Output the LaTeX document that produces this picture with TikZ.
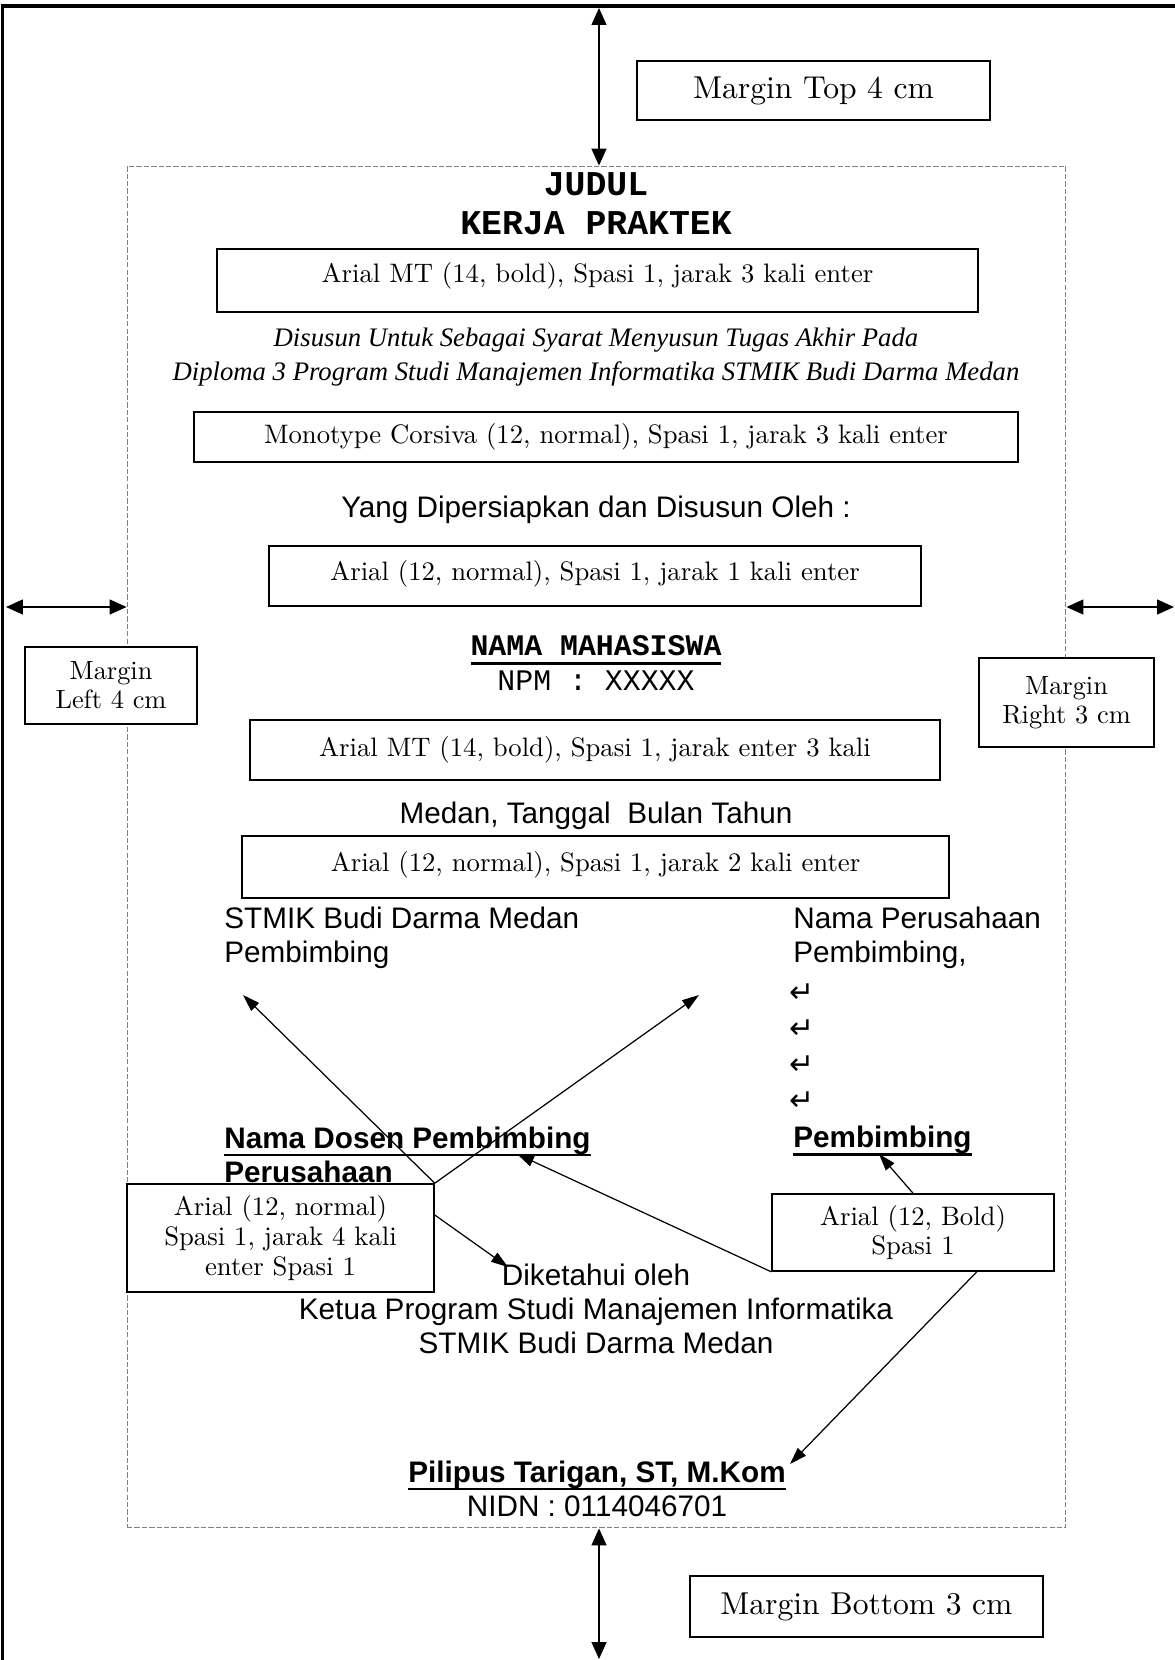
\documentclass[tikz,border=0pt]{standalone}
\usepackage{fontspec}
\newfontfamily\arial{Liberation Sans}
\newfontfamily\kurir{Liberation Mono}
\newfontfamily\serifmiring{Liberation Serif}
\newfontfamily\dejavu{DejaVu Sans}
\newfontfamily\lmsepuluh{lmroman10-regular}[Extension=.otf]
\usetikzlibrary{arrows.meta,calc}
\newcommand{\garis}[2][4.5pt]{\leavevmode\setbox0\hbox{#2}\rlap{\rule[-#1]{\wd0}{1.5pt}}\box0}
\tikzset{
  bingkai/.style={line width=2pt},
  halaman/.style={draw=black!50,line width=0.6pt,dash pattern=on 3pt off 1.2pt,
    inner sep=0pt},
  kotak/.style={draw,fill=white,line width=0.9pt,inner sep=0pt,align=center,
    font=\lmsepuluh\fontsize{15.2}{17}\selectfont},
  kotakbesar/.style={kotak,font=\lmsepuluh\fontsize{18}{20}\selectfont},
  kotakmargin/.style={kotak,font=\lmsepuluh\fontsize{15}{16.5}\selectfont},
  arialteks/.style={inner sep=0pt,font=\arial\fontsize{16.9}{19.4}\selectfont},
  kurirteks/.style={inner sep=0pt,align=center,font=\kurir\fontsize{17}{20.4}\selectfont},
  judulteks/.style={inner sep=0pt,align=center,
    font=\kurir\bfseries\fontsize{19.8}{22}\selectfont},
  miring/.style={inner sep=0pt,align=center,
    font=\serifmiring\itshape\fontsize{15.2}{19.3}\selectfont},
  enter/.style={inner sep=0pt,font=\dejavu\fontsize{17}{17}\selectfont},
  panahmargin/.style={{Triangle[length=3.4mm,width=3mm]}-{Triangle[length=3.4mm,width=3mm]},
    line width=0.8pt},
  panah/.style={-{Triangle[length=3.4mm,width=2.2mm]},line width=0.7pt},
}
\begin{document}
\begin{tikzpicture}[x=0.02cm,y=-0.02cm]
  \useasboundingbox (0,0) rectangle (1175,1660);
  % halaman dan batas ketikan
  \draw[bingkai] (2.5,1660) -- (2.5,6) -- (1175,6);
  \node[halaman,minimum width=18.78cm,minimum height=27.24cm] (isi) at (596.5,847) {};

  % margin
  \coordinate (atas) at (599,8);
  \draw[panahmargin] (atas) -- (atas |- isi.north);
  \node[kotakbesar,minimum width=7.06cm,minimum height=1.18cm] (mtop) at (813.5,90.5) {Margin Top 4 cm};
  \coordinate (kiri) at (6,607);
  \draw[panahmargin] (kiri) -- (kiri -| isi.west);
  \node[kotakmargin,minimum width=3.44cm,minimum height=1.54cm] (mleft) at (111,685.5) {Margin\\Left 4 cm};
  \coordinate (kanan) at (1174,607);
  \draw[panahmargin] (kanan -| isi.east) -- (kanan);
  \node[kotakmargin,minimum width=3.5cm,minimum height=1.78cm] (mright) at (1066.5,702.5) {Margin\\Right 3 cm};
  \coordinate (bawah) at (599,1659);
  \draw[panahmargin] (bawah |- isi.south) -- (bawah);
  \node[kotakbesar,minimum width=7.06cm,minimum height=1.22cm] (mbottom) at (866.5,1606.5) {Margin Bottom 3 cm};

  % isi halaman judul
  \node[judulteks] (judul) at (596,203.5) {JUDUL\\KERJA PRAKTEK};
  \node[kotak,minimum width=15.22cm,minimum height=1.26cm,text depth=9pt] (k1) at (597.5,280.5) {Arial MT (14, bold), Spasi 1, jarak 3 kali enter};
  \node[miring] (syarat) at (596,357) {Disusun Untuk Sebagai Syarat Menyusun Tugas Akhir Pada\\Diploma 3 Program Studi Manajemen Informatika STMIK Budi Darma Medan};
  \node[kotak,minimum width=16.48cm,minimum height=1cm] (k2) at (606,437) {Monotype Corsiva (12, normal), Spasi 1, jarak 3 kali enter};
  \node[arialteks] (oleh) at (596,510) {Yang Dipersiapkan dan Disusun Oleh :};
  \node[kotak,minimum width=13.04cm,minimum height=1.2cm,text depth=6pt] (k3) at (595,576) {Arial (12, normal), Spasi 1, jarak 1 kali enter};
  \node[kurirteks] (nama) at (596,663) {\garis[5.5pt]{\bfseries NAMA MAHASISWA}\\NPM : XXXXX};
  \node[kotak,minimum width=13.8cm,minimum height=1.2cm] (k4) at (595,750) {Arial MT (14, bold), Spasi 1, jarak enter 3 kali};
  \node[arialteks] (tanggal) at (596,816) {Medan, Tanggal\ \ Bulan Tahun};
  \node[kotak,minimum width=14.14cm,minimum height=1.24cm,text depth=6pt] (k5) at (595.5,867) {Arial (12, normal), Spasi 1, jarak 2 kali enter};

  % pembimbing
  \node[arialteks,anchor=west,align=left] (stmik) at (224,937.5) {STMIK Budi Darma Medan\\Pembimbing};
  \node[arialteks,anchor=west,align=left] (perusahaan) at (793,937.5) {Nama Perusahaan\\Pembimbing,};
  \node[enter] (e1) at (802,993) {↵};
  \node[enter] (e2) at (802,1029) {↵};
  \node[enter] (e3) at (802,1065) {↵};
  \node[enter] (e4) at (802,1101) {↵};
  \node[arialteks,anchor=west,align=left] (dosen) at (224,1155) {\garis{\bfseries Nama Dosen Pembimbing}\\\textbf{Perusahaan}};
  \node[arialteks,anchor=west] (pbb) at (793,1141) {\garis{\bfseries Pembimbing}};
  \node[kotak,minimum width=6.14cm,minimum height=2.16cm] (k6) at (280.5,1238) {Arial (12, normal)\\Spasi 1, jarak 4 kali\\enter Spasi 1};
  \node[arialteks,align=center] (ketua) at (596,1309) {Diketahui oleh\\Ketua Program Studi Manajemen Informatika\\STMIK Budi Darma Medan};
  \node[kotak,minimum width=5.64cm,minimum height=1.54cm] (k7) at (913,1232.5) {Arial (12, Bold)\\Spasi 1};
  \node[arialteks,align=center] (ttd) at (597,1489) {\garis{\bfseries Pilipus Tarigan, ST, M.Kom}\\NIDN : 0114046701};

  % panah keterangan
  \coordinate (t1) at (243,995);
  \coordinate (t2) at (699,995);
  \coordinate (t3) at (508,1267);
  \coordinate (t4) at (517,1154);
  \coordinate (t5) at (879,1154);
  \coordinate (t6) at (790,1464);
  \draw[panah] (k6.north east) -- (t1);
  \draw[panah] (k6.north east) -- (t2);
  \draw[panah] ($(k6.north east)!0.29!(k6.south east)$) -- (t3);
  \draw[panah] (k7.south west) -- (t4);
  \draw[panah] (k7.north) -- (t5);
  \draw[panah] ($(k7.south)!0.45!(k7.south east)$) -- (t6);
\end{tikzpicture}
\end{document}
